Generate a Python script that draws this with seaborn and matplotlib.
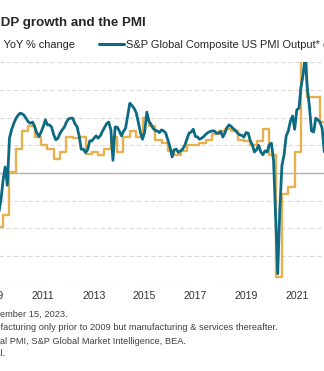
import numpy as np
import pandas as pd
import matplotlib
matplotlib.use("Agg")
import matplotlib.pyplot as plt
import matplotlib.dates as mdates
import seaborn as sns
from matplotlib.lines import Line2D

# ---------------- data ----------------
title = "US GDP growth and the PMI"
gdp_label = "US GDP, YoY % change"
pmi_label = "S&P Global Composite US PMI Output* (RHS)"
footnotes = [
    "Data as of September 15, 2023.",
    "*Manufacturing only prior to 2009 but manufacturing & services thereafter.",
    "Sources: S&P Global PMI, S&P Global Market Intelligence, BEA.",
    "\u00a9 2023 S&P Global.",
]
year_ticks = [2009, 2011, 2013, 2015, 2017, 2019, 2021, 2023]

# quarterly GDP (YoY %), Q1 2009 onwards
gdp_start = "2008-12-01"
gdp_yoy = [-3.3, -3.9, -3.0, 0.1, 1.7, 3.0, 3.4, 2.6, 2.0, 1.7, 1.0, 1.5,
           2.6, 2.5, 2.6, 1.4, 1.5, 1.3, 1.7, 2.6, 1.5, 2.6, 3.0, 2.6,
           4.0, 3.4, 2.4, 2.2, 1.6, 1.3, 1.6, 2.0, 2.0, 2.2, 2.4, 2.8,
           3.0, 3.2, 3.0, 2.4, 2.3, 2.0, 2.3, 3.2, 1.3, -7.5, -1.5, -1.0,
           1.5, 12.2, 5.5, 5.5, 3.7, 1.8]

# monthly PMI, March 2009 onwards
pmi_start = "2009-03-01"
pmi = [36.1, 37.9, 40.1, 43.7, 46.1, 42.8, 51.3, 52.8, 53.9, 54.8, 55.4, 55.8,
       55.7, 55.4, 54.8, 54.2, 54.0, 54.2, 53.3, 52.2, 51.6, 52.4, 53.4, 54.6,
       53.7, 53.7, 53.3, 51.9, 51.0, 51.3, 52.2, 52.8, 53.3, 54.2, 54.8, 54.9,
       54.9, 53.9, 53.4, 51.7, 49.3, 49.3, 48.7, 49.2, 50.8, 50.8, 51.3, 51.7,
       51.3, 51.7, 52.5, 53.2, 53.9, 54.2, 52.8, 47.3, 53.3, 53.3, 52.6, 51.7,
       52.5, 53.1, 55.3, 57.6, 57.2, 56.7, 55.9, 54.2, 52.3, 51.1, 52.4, 56.0,
       54.4, 53.8, 53.1, 52.7, 52.6, 52.3, 52.8, 52.6, 52.2, 51.0, 49.7, 47.9,
       49.2, 49.3, 48.7, 49.0, 49.3, 50.0, 51.1, 52.2, 52.4, 52.9, 51.6, 51.5,
       51.1, 51.3, 51.6, 52.0, 52.3, 52.5, 52.6, 52.6, 52.2, 52.2, 52.5, 51.5,
       52.2, 53.2, 53.7, 53.4, 53.0, 52.7, 52.2, 51.9, 51.8, 51.5, 52.3, 52.2,
       50.9, 50.1, 48.8, 49.2, 50.0, 48.8, 48.3, 49.0, 48.8, 50.1, 50.4, 47.3,
       37.4, 26.8, 38.3, 46.4, 48.2, 51.7, 52.6, 54.4, 55.3, 52.9, 56.4, 56.7,
       60.4, 62.7, 66.1, 60.4, 57.1, 52.6, 52.4, 54.9, 54.6, 54.2, 53.1, 48.8,
       51.0]

gdp_dates = pd.date_range(gdp_start, periods=len(gdp_yoy), freq="3MS")
pmi_dates = pd.date_range(pmi_start, periods=len(pmi), freq="MS")

# ---------------- style ----------------
teal = "#0c6a82"
orange = "#e8b04e"
grid_c = "#d9d9d9"
text_c = "#262626"

sns.set_theme(style="white")
plt.rcParams["font.family"] = ["Liberation Sans", "DejaVu Sans"]

W, H = 324, 371
fig = plt.figure(figsize=(W / 100, H / 100), dpi=100)
fig.patch.set_facecolor("white")

# plot area in pixel coordinates (extends beyond the cropped view)
px_l, px_r, px_t, px_b = -60, 380, 62.3, 283.7
ax = fig.add_axes([px_l / W, 1 - px_b / H, (px_r - px_l) / W, (px_b - px_t) / H])

ppd = 25.35 / 365.25
d0 = mdates.date2num(pd.Timestamp("2009-01-01"))
x0px = -7.4
xlim = (d0 + (px_l - x0px) / ppd, d0 + (px_r - x0px) / ppd)

sns.lineplot(x=gdp_dates, y=gdp_yoy, ax=ax, color=orange, linewidth=1.7,
             drawstyle="steps-post", zorder=3)
ax.set_ylim(-8, 8)
ax.set_yticks(np.arange(-8, 9, 2))
ax.yaxis.grid(True, color=grid_c, linestyle=(0, (4, 2.5)), linewidth=0.8)
ax.axhline(0, color="#b3b3b3", linewidth=1.0, zorder=1)
ax.set_axisbelow(True)

ax2 = ax.twinx()
sns.lineplot(x=pmi_dates, y=pmi, ax=ax2, color=teal, linewidth=2.0, zorder=4)
ax2.set_ylim(25, 65)
ax2.set_yticks(np.arange(25, 66, 5))

for a in (ax, ax2):
    a.set_xlim(*xlim)
    for s in a.spines.values():
        s.set_visible(False)
    a.set_xlabel("")
    a.set_ylabel("")
    a.tick_params(length=0)
ax2.grid(False)

ax.set_xticks([mdates.date2num(pd.Timestamp(f"{y}-01-01")) for y in year_ticks])
ax.set_xticklabels([str(y) for y in year_ticks], fontsize=7.6, color="#333333")
ax.tick_params(axis="x", pad=5)
# y-axis labels sit outside the cropped view
ax.tick_params(axis="y", labelsize=7.6, labelcolor="#333333")
ax2.tick_params(axis="y", labelsize=7.6, labelcolor="#333333")

renderer = fig.canvas.get_renderer()


def cropped_text(full, hidden, x_vis, y_base, **kw):
    t = fig.text(0, 0, hidden, **kw)
    w = t.get_window_extent(renderer).width if hidden else 0
    t.remove()
    return fig.text((x_vis - w) / W, 1 - y_base / H, full, va="baseline", ha="left", **kw)


cropped_text(title, "US G", 0.5, 26.0, fontsize=9.6, fontweight="bold", color=text_c)

# legend
handles = [Line2D([], [], color=orange, lw=2.2), Line2D([], [], color=teal, lw=2.2)]
leg = fig.legend(handles, [gdp_label, pmi_label], loc="center left",
                 bbox_to_anchor=(-70.5 / W, 1 - 45 / H), ncol=2, frameon=False,
                 fontsize=7.9, handlelength=2.3, handletextpad=0.2,
                 columnspacing=2.2, borderpad=0, borderaxespad=0)
for t in leg.get_texts():
    t.set_color(text_c)

foot_hidden = ["Data as of Sept", "*Manu", "Sources: S&P Glob", "\u00a9 2023 S&P Globa"]
foot_y = [317.0, 330.5, 343.5, 356.5]
for txt, hid, yb in zip(footnotes, foot_hidden, foot_y):
    cropped_text(txt, hid, 0.0, yb, fontsize=6.7, color="#404040")

fig.savefig("out.png", dpi=100, facecolor="white")
